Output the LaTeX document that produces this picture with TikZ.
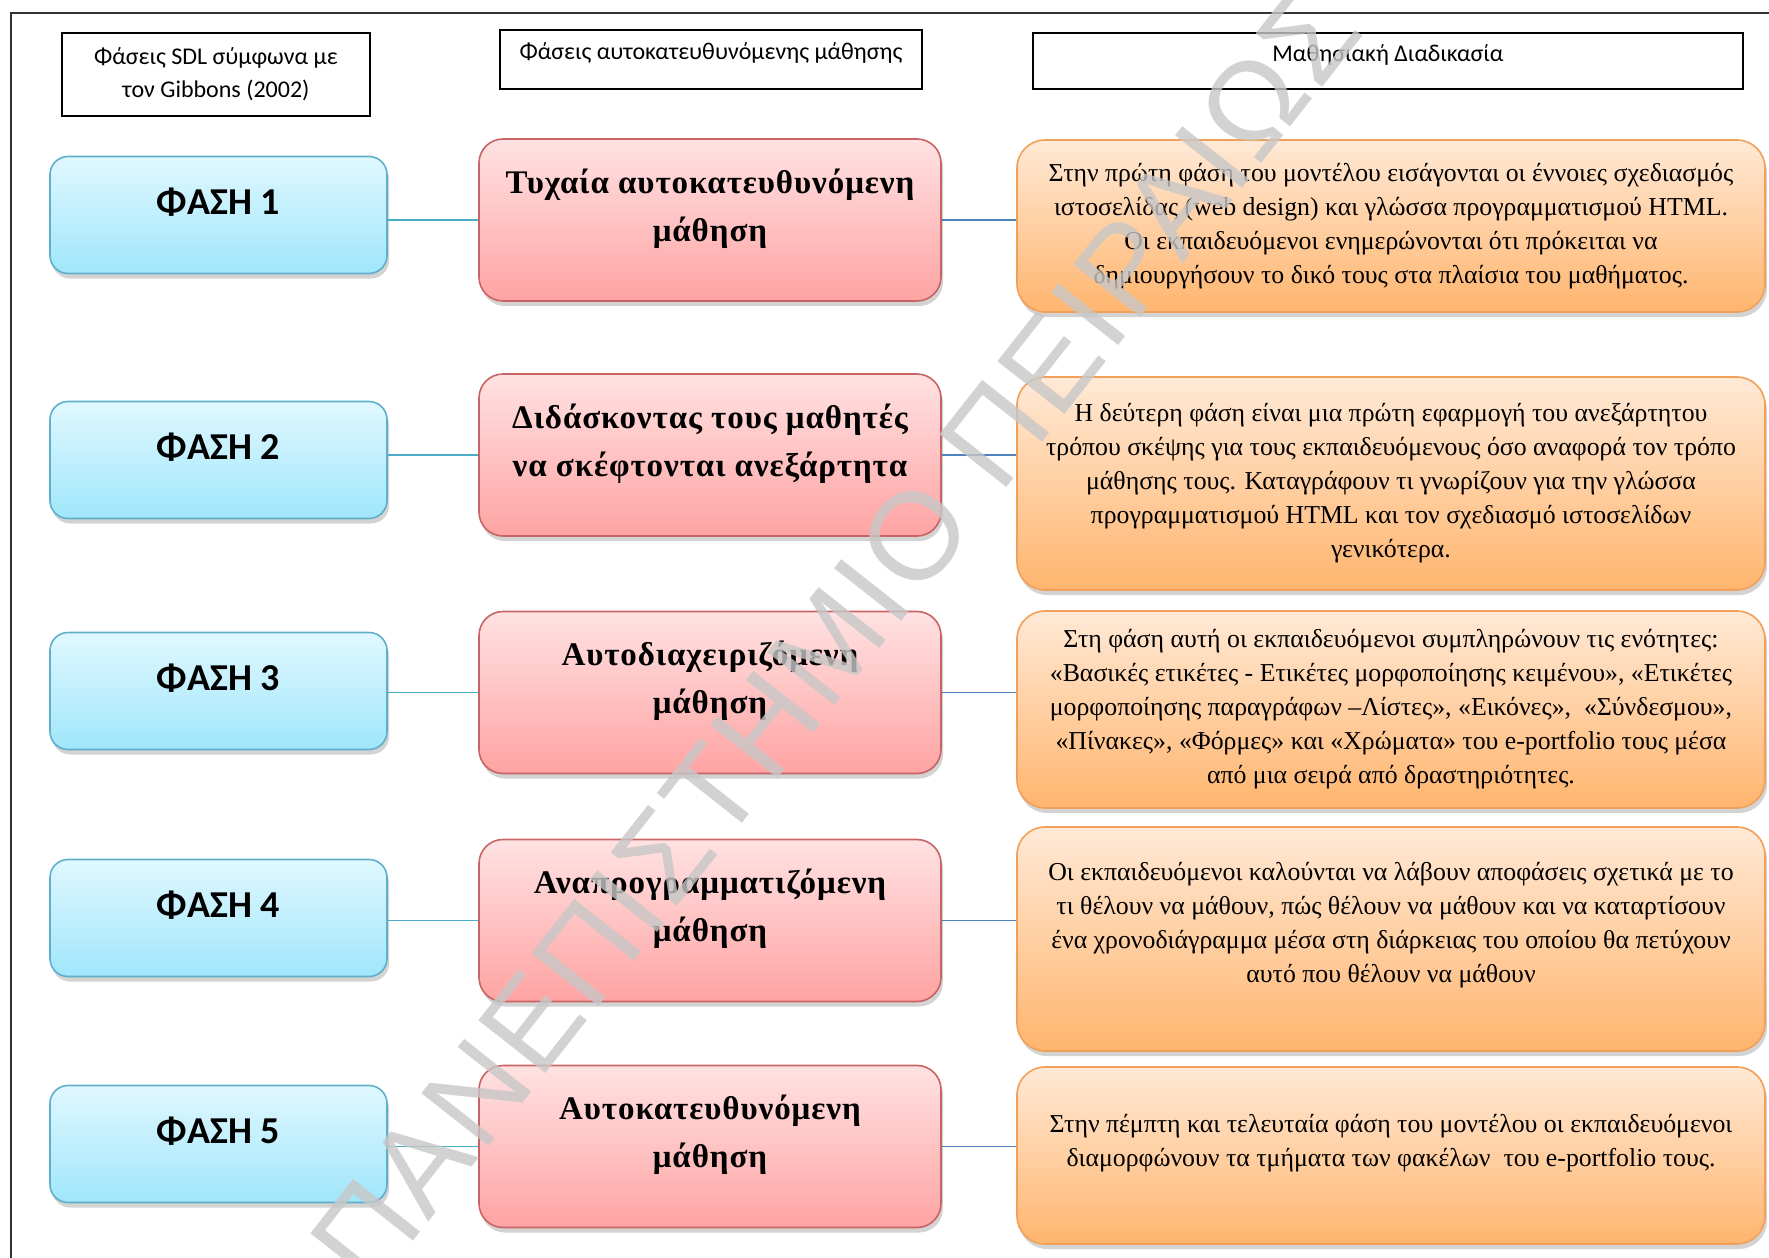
\documentclass[tikz,border=0pt]{standalone}
\usepackage{fontspec}
\setmainfont{Liberation Serif}
\newfontfamily\calibri{Carlito}
\newfontfamily\wmfont[LetterSpace=2.6]{Liberation Sans}
\newfontfamily\stagefont[LetterSpace=2.8]{Liberation Serif}
\usetikzlibrary{shadows}
\definecolor{phasetop}{RGB}{224,248,255}
\definecolor{phasebot}{RGB}{160,230,251}
\definecolor{phaseedge}{RGB}{95,175,203}
\definecolor{stagetop}{RGB}{255,226,226}
\definecolor{stagebot}{RGB}{255,163,163}
\definecolor{stageedge}{RGB}{200,100,100}
\definecolor{desctop}{RGB}{255,233,214}
\definecolor{descbot}{RGB}{255,181,110}
\definecolor{descedge}{RGB}{240,160,88}
\definecolor{aqua}{RGB}{75,172,198}
\definecolor{dblue}{RGB}{79,129,189}

\begin{document}
\begin{tikzpicture}[x=0.5pt, y=-0.5pt,
  head/.style={draw, line width=0.9pt, align=center, inner sep=0pt,
    font=\calibri\fontsize{12}{16.5}\selectfont},
  shade/.style={drop shadow={shadow xshift=1pt, shadow yshift=-2.5pt, opacity=0.35}},
  phase/.style={shade, draw=phaseedge, line width=0.8pt, rounded corners=9pt,
    top color=phasetop, bottom color=phasebot, minimum width=168.5pt, minimum height=58.5pt,
    text depth=13.5pt, font=\calibri\bfseries\fontsize{19}{23}\selectfont},
  stage/.style={shade, draw=stageedge, line width=0.8pt, rounded corners=12pt,
    top color=stagetop, bottom color=stagebot, minimum width=231pt, minimum height=81pt,
    align=center, text depth=15pt, font=\stagefont\bfseries\fontsize{16.5}{24}\selectfont},
  desc/.style={shade, draw=descedge, line width=0.8pt, rounded corners=14pt,
    top color=desctop, bottom color=descbot, minimum width=374pt,
    align=center, font=\fontsize{12.9}{17}\selectfont},
  linkL/.style={aqua, line width=0.8pt},
  linkR/.style={dblue, line width=0.8pt}]
  \useasboundingbox (0,0) rectangle (1769,1258);
  % page frame
  \draw[line width=0.8pt, black!80] (11,1258) -- (11,13) -- (1769,13);
  % column heads
  \node[head, minimum width=154pt, minimum height=41.5pt] (h1) at (216,74.5)
    {Φάσεις SDL σύμφωνα με\\τον Gibbons (2002)};
  \node[head, minimum width=211pt, minimum height=29.5pt, text depth=8pt] (h2) at (711,59.5)
    {Φάσεις αυτοκατευθυνόμενης μάθησης};
  \node[head, minimum width=355pt, minimum height=28pt, text depth=8pt] (h3) at (1388,61)
    {Μαθησιακή Διαδικασία};
  % Row 1
  \node[phase] (f1) at (218.5,215) {ΦΑΣΗ 1};
  \node[stage] (s1) at (710,220) {Τυχαία αυτοκατευθυνόμενη\\μάθηση};
  \node[desc, minimum height=86pt] (d1) at (1391,226)
    {Στην πρώτη φάση του μοντέλου εισάγονται οι έννοιες σχεδιασμός\\
     ιστοσελίδας (web design) και γλώσσα προγραμματισμού HTML.\\
     Οι εκπαιδευόμενοι ενημερώνονται ότι πρόκειται να\\
     δημιουργήσουν το δικό τους στα πλαίσια του μαθήματος.};
  % Row 2
  \node[phase] (f2) at (218.5,460) {ΦΑΣΗ 2};
  \node[stage] (s2) at (710,455) {Διδάσκοντας τους μαθητές\\να σκέφτονται ανεξάρτητα};
  \node[desc, minimum height=106.5pt] (d2) at (1391,483.5)
    {Η δεύτερη φάση είναι μια πρώτη εφαρμογή του ανεξάρτητου\\
     τρόπου σκέψης για τους εκπαιδευόμενους όσο αναφορά τον τρόπο\\
     μάθησης τους. Καταγράφουν τι γνωρίζουν για την γλώσσα\\
     προγραμματισμού HTML και τον σχεδιασμό ιστοσελίδων\\
     γενικότερα.};
  % Row 3
  \node[phase] (f3) at (218.5,691) {ΦΑΣΗ 3};
  \node[stage] (s3) at (710,692.5) {Αυτοδιαχειριζόμενη\\μάθηση};
  \node[desc, minimum height=98.5pt] (d3) at (1391,709.5)
    {Στη φάση αυτή οι εκπαιδευόμενοι συμπληρώνουν τις ενότητες:\\
     «Βασικές ετικέτες - Ετικέτες μορφοποίησης κειμένου», «Ετικέτες\\
     μορφοποίησης παραγράφων –Λίστες», «Εικόνες», \ «Σύνδεσμου»,\\
     «Πίνακες», «Φόρμες» και «Χρώματα» του e-portfolio τους μέσα\\
     από μια σειρά από δραστηριότητες.};
  % Row 4
  \node[phase] (f4) at (218.5,918) {ΦΑΣΗ 4};
  \node[stage] (s4) at (710,920.5) {Αναπρογραμματιζόμενη\\μάθηση};
  \node[desc, minimum height=112pt, text depth=17pt] (d4) at (1391,939)
    {Οι εκπαιδευόμενοι καλούνται να λάβουν αποφάσεις σχετικά με το\\
     τι θέλουν να μάθουν, πώς θέλουν να μάθουν και να καταρτίσουν\\
     ένα χρονοδιάγραμμα μέσα στη διάρκειας του οποίου θα πετύχουν\\
     αυτό που θέλουν να μάθουν};
  % Row 5
  \node[phase] (f5) at (218.5,1144) {ΦΑΣΗ 5};
  \node[stage] (s5) at (710,1146.5) {Αυτοκατευθυνόμενη\\μάθηση};
  \node[desc, minimum height=88.5pt, text depth=15pt] (d5) at (1391,1155.5)
    {Στην πέμπτη και τελευταία φάση του μοντέλου οι εκπαιδευόμενοι\\
     διαμορφώνουν τα τμήματα των φακέλων \ του e-portfolio τους.};
  % connectors
  \draw[linkL] (s1.west) -- (s1.west -| f1.east);
  \draw[linkL] (s2.west) -- (s2.west -| f2.east);
  \draw[linkL] (s3.west) -- (s3.west -| f3.east);
  \draw[linkL] (s4.west) -- (s4.west -| f4.east);
  \draw[linkL] (s5.west) -- (s5.west -| f5.east);
  \draw[linkR] (s1.east) -- (s1.east -| d1.west);
  \draw[linkR] (s2.east) -- (s2.east -| d2.west);
  \draw[linkR] (s3.east) -- (s3.east -| d3.west);
  \draw[linkR] (s4.east) -- (s4.east -| d4.west);
  \draw[linkR] (s5.east) -- (s5.east -| d5.west);
  % watermark
  \node[rotate=51.8, text=black!22, text opacity=0.8,
    font=\wmfont\fontsize{62}{62}\selectfont] (wm) at (835,637) {ΠΑΝΕΠΙΣΤΗΜΙΟ ΠΕΙΡΑΙΩΣ};
\end{tikzpicture}
\end{document}
